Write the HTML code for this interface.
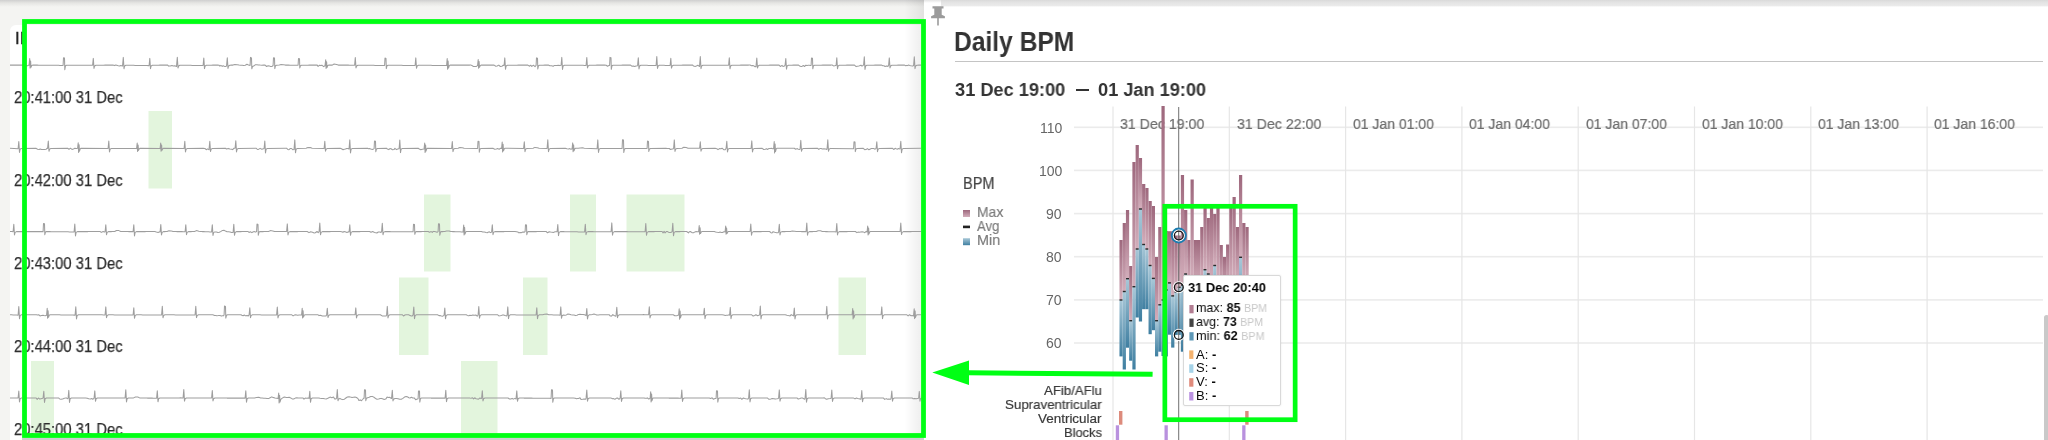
<!DOCTYPE html>
<html><head><meta charset='utf-8'><title>Daily BPM</title>
<style>
html,body{margin:0;padding:0;background:#fff;}
#root{position:relative;width:2048px;height:440px;overflow:hidden;background:#f4f4f2;font-family:"Liberation Sans",sans-serif;}
.t{position:absolute;white-space:pre;line-height:1;transform-origin:0 50%;will-change:transform;}
.abs{position:absolute;}
svg{position:absolute;left:0;top:0;overflow:visible;}
</style></head><body>
<div id='root'>
<div class='abs' style='left:0;top:0;width:2048px;height:7px;background:linear-gradient(#cfcfcf,#e6e6e4 45%,#f4f4f2);'></div>
<div class='abs' style='left:10px;top:25px;width:914px;height:420px;background:#fff;border-top-left-radius:6px;'></div>
<div class='abs' style='left:904px;top:0;width:20px;height:440px;background:linear-gradient(90deg,rgba(0,0,0,0),rgba(0,0,0,0.075));'></div>
<div class='abs' style='left:22px;top:437.8px;width:902px;height:3px;background:#cfcfcf;'></div>
<svg width='2048' height='440' viewBox='0 0 2048 440'>
<rect x='148.5' y='111' width='23.5' height='77.5' fill='#e3f5dd'/>
<rect x='424' y='194.5' width='26.5' height='77.0' fill='#e3f5dd'/>
<rect x='570' y='194.5' width='26' height='77.0' fill='#e3f5dd'/>
<rect x='626.5' y='194.5' width='58.0' height='77.0' fill='#e3f5dd'/>
<rect x='399' y='277.5' width='29.5' height='77.5' fill='#e3f5dd'/>
<rect x='523' y='277.5' width='24.5' height='77.5' fill='#e3f5dd'/>
<rect x='838.5' y='277.5' width='27.5' height='77.5' fill='#e3f5dd'/>
<rect x='31' y='361' width='23' height='76.80000000000001' fill='#e3f5dd'/>
<rect x='461' y='361' width='36.5' height='76.80000000000001' fill='#e3f5dd'/>
<path d='M10.0,65.1 L11.6,65.1 L13.2,65.1 L14.8,65.1 L16.4,65.1 L18.1,65.1 L19.7,65.1 L21.3,65.1 L22.9,65.1 L24.4,65.1 L25.8,65.6 L26.7,65.8 L27.6,65.7 L28.6,65.1 L29.1,65.3 L29.7,58.5 L30.1,68.1 L30.6,61.0 L31.0,67.2 L31.8,65.5 L32.6,65.1 L34.1,65.1 L35.6,65.1 L37.2,65.1 L38.7,65.2 L40.2,65.2 L41.8,65.2 L43.3,65.2 L44.8,65.2 L46.3,65.2 L47.9,65.2 L49.4,65.3 L50.9,65.3 L52.4,65.3 L54.0,65.3 L55.5,65.3 L57.0,65.3 L58.5,65.3 L60.0,65.4 L61.6,65.4 L63.1,65.4 L63.5,57.8 L64.5,58.1 L64.8,69.7 L65.5,65.7 L66.6,65.2 L68.1,65.2 L69.7,65.2 L71.2,65.2 L72.7,65.2 L74.2,65.2 L75.8,65.2 L77.3,65.2 L78.8,65.2 L80.4,65.2 L81.9,65.2 L83.4,65.2 L85.0,65.2 L86.5,65.2 L88.0,65.2 L89.5,65.2 L91.1,65.2 L92.6,65.2 L93.3,58.4 L94.0,68.5 L94.6,66.0 L95.9,65.2 L97.4,65.2 L99.0,65.2 L100.5,65.2 L102.1,65.2 L103.6,65.2 L105.2,65.1 L106.7,65.1 L108.3,65.1 L109.8,65.1 L111.4,65.1 L112.9,65.1 L114.4,65.6 L115.8,65.1 L116.8,65.3 L118.3,65.7 L119.5,65.9 L120.8,65.5 L122.4,66.1 L122.6,65.2 L123.3,57.4 L124.0,68.8 L124.6,66.0 L125.9,65.2 L127.4,65.2 L129.0,65.3 L130.5,65.3 L132.1,65.3 L133.6,65.3 L135.2,65.4 L136.7,65.4 L138.3,65.4 L139.8,65.4 L141.4,65.5 L142.9,65.5 L144.5,65.5 L146.0,65.5 L147.6,65.6 L149.1,65.6 L149.8,58.4 L150.5,68.7 L151.1,66.0 L152.4,65.2 L153.9,65.2 L155.5,65.2 L157.0,65.2 L158.5,65.2 L160.0,65.1 L161.6,65.1 L163.1,65.1 L164.6,65.1 L166.2,65.1 L167.7,65.1 L168.6,66.1 L170.2,65.9 L171.9,65.5 L173.4,66.0 L174.8,65.7 L176.5,66.5 L176.6,65.3 L177.3,57.2 L178.0,68.0 L178.6,66.0 L179.9,65.2 L181.4,65.2 L183.0,65.2 L184.5,65.3 L186.1,65.3 L187.6,65.3 L189.2,65.3 L190.7,65.3 L192.3,65.4 L193.8,65.4 L195.4,65.4 L196.9,65.4 L198.5,65.4 L200.0,65.5 L201.6,65.5 L203.1,65.5 L203.8,58.0 L204.5,68.6 L205.1,66.0 L206.4,65.2 L208.0,65.2 L209.7,65.2 L211.3,65.2 L213.0,65.1 L214.6,65.1 L216.3,65.1 L217.9,65.1 L219.0,65.2 L219.9,66.2 L220.9,65.4 L222.2,66.4 L223.2,65.7 L224.5,66.4 L226.2,66.4 L226.6,65.2 L227.3,57.7 L228.0,68.5 L228.6,66.0 L229.9,65.2 L231.4,65.1 L233.0,65.1 L234.8,64.5 L237.2,64.7 L239.0,65.1 L240.6,65.2 L242.2,65.3 L243.7,65.5 L245.3,65.3 L246.9,64.3 L248.5,65.0 L250.1,65.4 L250.5,57.4 L251.5,57.9 L251.8,68.8 L252.5,66.5 L253.6,66.1 L255.2,64.8 L256.9,64.7 L258.5,64.9 L260.2,65.1 L261.8,65.2 L263.5,65.1 L265.1,65.1 L266.6,66.5 L268.1,65.8 L269.5,66.1 L270.5,66.4 L272.1,66.4 L273.1,65.5 L273.5,57.8 L274.5,58.1 L274.8,68.6 L275.5,65.7 L276.6,65.2 L279.3,65.1 L281.1,64.6 L283.5,64.8 L285.3,65.1 L286.9,65.1 L288.5,65.1 L290.1,65.2 L291.7,65.2 L293.3,65.2 L294.9,65.2 L296.5,65.2 L298.1,65.3 L298.5,58.5 L299.5,58.8 L299.8,67.9 L300.5,65.7 L301.6,65.2 L303.2,65.2 L304.7,65.2 L306.3,65.2 L307.8,65.2 L309.4,65.1 L311.0,65.1 L312.5,65.1 L314.1,65.1 L315.6,65.1 L317.2,65.1 L318.1,66.4 L319.6,65.2 L320.7,65.6 L321.9,65.2 L323.6,66.6 L324.9,65.8 L325.1,65.1 L325.7,59.7 L326.1,68.5 L326.6,61.7 L327.0,67.5 L327.8,65.5 L328.6,65.1 L330.4,65.1 L332.3,65.1 L334.1,64.0 L336.5,64.5 L338.3,65.1 L339.9,65.1 L341.5,65.1 L343.2,65.1 L344.8,65.1 L346.4,65.1 L348.1,65.1 L349.7,65.2 L351.3,65.2 L353.0,65.2 L354.6,65.2 L355.3,57.5 L356.0,67.9 L356.6,66.0 L357.9,65.2 L359.5,65.2 L361.0,65.2 L362.6,65.2 L364.2,65.3 L365.8,65.3 L367.3,65.3 L368.9,65.3 L370.5,65.3 L372.0,65.3 L373.6,65.3 L375.2,65.4 L376.7,65.4 L378.3,65.4 L379.9,65.4 L381.5,65.4 L383.0,65.4 L384.6,65.4 L385.0,58.1 L386.0,58.4 L386.3,68.6 L387.0,65.7 L388.1,65.2 L389.6,65.2 L391.1,65.2 L392.6,65.2 L394.1,65.3 L395.6,65.3 L397.1,65.3 L398.6,65.3 L400.1,65.3 L401.6,65.3 L403.1,65.4 L404.6,65.4 L406.1,65.4 L407.6,65.4 L409.1,65.4 L410.6,65.4 L412.1,65.5 L413.6,65.5 L415.1,65.5 L415.8,57.9 L416.5,68.3 L417.1,66.0 L418.4,65.2 L420.0,65.2 L421.5,65.2 L423.1,65.3 L424.7,65.3 L426.2,65.3 L427.8,65.3 L429.4,65.3 L430.9,65.3 L432.5,65.4 L434.1,65.4 L435.6,65.4 L437.2,65.4 L438.8,65.4 L440.3,65.4 L441.9,65.5 L443.5,65.5 L445.0,65.5 L446.6,65.5 L447.2,58.5 L447.6,69.2 L448.1,61.0 L448.5,68.0 L449.3,65.5 L450.1,65.1 L451.6,65.1 L453.1,65.1 L454.6,65.1 L456.1,65.1 L457.7,65.1 L459.2,65.1 L460.7,65.1 L462.2,65.1 L463.7,65.1 L465.2,65.1 L466.7,65.1 L468.2,65.1 L469.8,65.1 L470.7,65.0 L471.8,65.4 L473.4,66.5 L474.7,66.5 L476.4,66.5 L477.6,65.3 L478.2,59.5 L478.6,68.3 L479.1,61.6 L479.5,67.3 L480.3,65.5 L481.1,65.1 L482.7,65.1 L484.4,65.1 L486.0,65.1 L487.6,65.1 L489.2,65.1 L490.9,65.1 L492.5,65.1 L494.1,65.1 L495.8,66.3 L497.1,66.0 L498.8,65.1 L500.3,66.5 L501.9,66.2 L503.2,65.3 L504.1,65.5 L504.8,57.9 L505.5,69.3 L506.1,66.0 L507.4,65.2 L509.0,65.2 L510.6,65.2 L512.1,65.2 L513.7,65.2 L515.3,65.2 L516.9,65.2 L518.4,65.1 L520.0,65.1 L521.6,65.1 L523.2,65.1 L524.7,65.1 L526.3,65.1 L527.9,65.1 L529.6,66.2 L530.7,65.2 L531.7,66.4 L533.4,65.2 L535.0,66.6 L536.1,65.4 L536.5,57.9 L537.5,58.2 L537.8,68.9 L538.5,65.7 L539.6,65.2 L541.3,65.2 L543.1,65.2 L544.8,65.1 L546.6,65.1 L548.3,65.1 L549.8,65.8 L551.6,65.7 L553.2,66.3 L554.3,65.4 L555.5,65.4 L556.9,65.4 L558.2,65.2 L559.9,65.6 L561.1,65.3 L561.8,57.4 L562.5,69.5 L563.1,66.0 L564.4,65.2 L565.9,65.2 L567.5,65.2 L569.0,65.2 L570.6,65.2 L572.1,65.3 L573.7,65.3 L575.2,65.3 L576.8,65.3 L578.4,65.3 L579.9,65.3 L581.5,65.3 L583.0,65.3 L584.6,65.4 L586.1,65.4 L586.8,57.5 L587.5,67.9 L588.1,66.0 L589.4,65.2 L590.9,65.2 L592.4,65.2 L594.0,65.2 L595.5,65.2 L597.0,65.1 L598.5,65.1 L600.0,65.1 L601.5,65.1 L603.1,65.1 L604.6,65.1 L606.2,65.3 L607.5,66.2 L608.9,65.5 L609.6,65.4 L610.0,57.4 L611.0,57.7 L611.3,69.3 L612.0,65.7 L613.1,65.2 L614.7,65.2 L616.3,65.2 L617.9,65.2 L619.5,65.2 L621.1,65.2 L622.7,65.1 L624.2,65.1 L625.8,65.1 L627.4,65.1 L629.0,65.1 L630.6,65.1 L631.8,66.2 L633.1,65.9 L634.7,66.5 L636.0,66.0 L637.4,65.8 L637.6,65.4 L638.3,57.7 L639.0,68.9 L639.6,66.0 L640.9,65.2 L642.4,65.2 L643.9,65.3 L645.5,65.3 L647.0,65.3 L648.5,65.4 L650.0,65.4 L651.5,65.4 L653.1,65.5 L654.6,65.5 L656.1,65.5 L656.8,56.6 L657.5,68.4 L658.1,66.0 L659.4,65.2 L660.9,65.2 L662.5,65.3 L664.0,65.3 L665.5,65.4 L667.0,65.4 L668.6,65.5 L670.1,65.5 L670.8,58.3 L671.5,68.1 L672.1,66.0 L673.4,65.2 L675.0,65.2 L676.6,65.2 L678.2,65.2 L679.8,65.2 L681.4,65.2 L683.0,65.1 L684.6,65.1 L686.2,65.1 L687.9,65.1 L689.5,65.1 L691.1,65.1 L692.7,65.1 L693.6,66.1 L695.2,66.4 L696.3,66.1 L697.8,65.2 L699.5,66.5 L699.6,65.2 L700.3,56.6 L701.0,68.6 L701.6,66.0 L702.9,65.2 L704.4,65.2 L705.9,65.2 L707.4,65.2 L708.9,65.2 L710.5,65.2 L712.0,65.2 L713.5,65.2 L715.0,65.2 L716.5,65.2 L718.0,65.2 L719.5,65.2 L721.0,65.2 L722.6,65.2 L724.1,65.2 L725.6,65.2 L727.1,65.2 L728.6,65.2 L729.3,57.7 L730.0,68.8 L730.6,66.0 L731.9,65.2 L733.4,65.2 L734.9,65.2 L736.4,65.2 L738.0,65.2 L739.5,65.2 L741.0,65.1 L742.5,65.1 L744.0,65.1 L745.5,65.1 L747.0,65.1 L748.6,65.1 L750.1,65.0 L751.5,65.7 L752.4,65.5 L753.9,65.8 L754.8,66.6 L756.1,66.6 L756.1,65.2 L756.8,58.0 L757.5,68.0 L758.1,66.0 L759.4,65.2 L760.9,65.2 L762.4,65.2 L763.9,65.2 L765.5,65.2 L767.0,65.2 L768.5,65.2 L770.0,65.1 L771.5,65.1 L773.0,65.1 L774.5,65.1 L776.0,65.1 L777.6,65.1 L779.1,65.1 L780.3,66.5 L782.0,65.4 L783.0,66.5 L784.4,66.1 L785.1,65.1 L785.8,58.5 L786.5,69.1 L787.1,66.0 L788.4,65.2 L790.1,65.2 L791.8,65.2 L793.5,65.1 L795.2,65.1 L796.9,65.1 L798.6,65.1 L800.1,66.3 L801.0,66.4 L802.0,66.4 L803.3,65.5 L804.7,66.5 L805.8,65.2 L807.2,65.4 L808.2,65.3 L809.2,65.3 L810.3,65.5 L811.1,65.5 L811.5,58.0 L812.5,58.3 L812.8,68.8 L813.5,65.7 L814.6,65.2 L816.2,65.2 L817.9,65.2 L819.5,65.2 L821.1,65.2 L822.8,65.1 L824.4,65.1 L826.0,65.1 L827.7,65.1 L829.3,65.1 L831.0,65.1 L832.1,65.0 L833.6,65.9 L834.7,65.8 L836.1,65.2 L836.1,65.5 L836.8,57.7 L837.5,68.8 L838.1,66.0 L839.4,65.2 L840.9,65.2 L842.4,65.2 L843.9,65.2 L845.5,65.2 L847.0,65.1 L848.5,65.1 L850.0,65.1 L851.5,65.1 L853.0,65.1 L854.5,65.1 L856.1,66.6 L857.3,66.3 L858.8,66.0 L860.1,65.6 L861.0,65.2 L862.0,66.2 L863.1,65.3 L863.6,65.1 L864.3,56.8 L865.0,69.5 L865.6,66.0 L866.9,65.2 L868.5,65.2 L870.2,65.2 L871.8,65.2 L873.5,65.2 L875.1,65.1 L876.7,65.1 L878.4,65.1 L880.0,65.1 L881.7,65.1 L882.8,65.7 L883.9,65.7 L885.0,66.5 L886.8,65.9 L887.9,66.5 L888.6,65.3 L889.3,57.9 L890.0,67.9 L890.6,66.0 L891.9,65.2 L893.5,65.2 L895.1,65.2 L896.7,65.2 L898.2,65.1 L899.8,65.1 L901.4,65.1 L903.0,65.1 L904.6,65.1 L905.7,65.8 L906.6,65.4 L907.5,65.6 L908.5,65.0 L909.7,65.4 L911.1,65.8 L912.7,66.1 L913.6,65.5 L914.3,56.8 L915.0,68.6 L915.6,66.0 L916.9,65.2 L919.0,65.1 L921.0,65.1' fill='none' stroke='#9e9e9e' stroke-width='1.05' stroke-linejoin='round'/>
<path d='M10.0,148.3 L18.1,148.8 L18.8,141.5 L19.5,152.4 L20.1,149.2 L21.4,148.4 L35.9,148.3 L37.6,149.2 L39.2,149.5 L40.2,149.0 L41.6,149.5 L43.2,149.5 L44.6,149.6 L46.1,149.3 L47.2,148.2 L47.6,148.4 L48.3,141.0 L49.0,151.3 L49.6,149.2 L50.9,148.4 L67.6,148.3 L69.0,149.3 L70.4,148.2 L72.0,149.4 L73.4,149.1 L74.8,148.3 L76.4,148.6 L77.6,148.3 L78.2,142.7 L78.6,152.4 L79.1,144.8 L79.5,151.2 L80.3,148.7 L81.1,148.3 L108.1,148.5 L108.8,141.0 L109.5,152.0 L110.1,149.2 L111.4,148.4 L136.6,148.6 L137.2,143.0 L137.6,151.4 L138.1,145.0 L138.5,150.4 L139.3,148.7 L140.1,148.3 L160.1,148.6 L160.7,143.1 L161.1,151.2 L161.6,145.0 L162.0,150.3 L162.8,148.7 L163.6,148.3 L184.1,148.6 L184.8,141.2 L185.5,152.0 L186.1,149.2 L187.4,148.4 L203.2,148.3 L204.9,148.5 L206.6,149.7 L207.6,148.9 L209.1,149.7 L209.1,148.5 L209.8,141.2 L210.5,151.5 L211.1,149.2 L212.4,148.4 L225.4,148.3 L226.5,149.0 L228.2,148.4 L229.9,149.0 L231.6,149.3 L232.7,149.6 L234.0,148.2 L235.1,148.3 L235.8,140.8 L236.5,151.9 L237.1,149.2 L238.4,148.4 L256.3,148.3 L257.5,149.5 L258.4,149.4 L260.1,148.4 L261.8,149.3 L263.5,148.7 L264.1,148.5 L264.8,141.0 L265.5,152.9 L266.1,149.2 L267.4,148.4 L285.7,148.3 L286.8,148.3 L287.8,149.5 L289.0,149.7 L290.1,148.6 L291.5,148.5 L292.7,149.7 L294.1,149.5 L294.1,148.6 L294.8,139.9 L295.5,152.8 L296.1,149.2 L297.4,148.4 L306.1,148.3 L307.9,147.6 L310.3,147.6 L312.1,148.3 L324.1,148.6 L324.8,141.2 L325.5,151.2 L326.1,149.2 L327.4,148.4 L340.3,148.3 L341.5,148.7 L343.1,149.8 L344.2,149.2 L345.4,149.1 L346.7,148.5 L347.7,148.5 L349.1,149.0 L349.1,148.4 L349.8,139.9 L350.5,152.9 L351.1,149.2 L352.4,148.4 L367.6,148.3 L368.5,148.7 L369.5,148.6 L370.7,149.1 L372.4,149.4 L373.6,148.9 L374.1,148.6 L374.5,141.0 L375.5,141.3 L375.8,151.7 L376.5,148.9 L377.6,148.4 L386.4,148.3 L387.4,149.0 L388.8,149.6 L389.9,148.6 L391.1,148.8 L392.4,149.7 L394.0,149.6 L394.9,148.3 L396.5,149.6 L397.8,149.1 L398.7,148.8 L399.1,148.8 L399.8,140.1 L400.5,152.6 L401.1,149.2 L402.4,148.4 L418.2,148.3 L419.3,149.0 L420.8,149.7 L422.3,149.2 L423.9,148.9 L424.1,148.6 L424.7,143.0 L425.1,152.5 L425.6,145.0 L426.0,151.2 L426.8,148.7 L427.6,148.3 L451.6,148.5 L452.3,141.5 L453.0,151.6 L453.6,149.2 L454.9,148.4 L458.1,148.3 L459.9,147.5 L462.3,147.7 L464.1,148.3 L477.6,148.5 L478.0,141.3 L479.0,141.6 L479.3,152.2 L480.0,148.9 L481.1,148.4 L492.9,148.3 L494.7,149.2 L496.4,149.0 L497.5,148.6 L499.2,149.3 L500.4,148.2 L501.6,148.5 L502.2,142.0 L502.6,151.9 L503.1,144.3 L503.5,150.8 L504.3,148.7 L505.1,148.3 L523.6,148.4 L524.3,141.7 L525.0,151.7 L525.6,149.2 L526.9,148.4 L533.1,148.3 L534.9,147.4 L537.3,147.7 L539.1,148.3 L547.1,148.4 L547.8,139.8 L548.5,151.7 L549.1,149.2 L550.4,148.4 L565.3,148.3 L566.9,148.7 L568.7,149.0 L569.7,148.6 L571.0,149.3 L572.1,148.8 L572.7,142.9 L573.1,151.8 L573.6,144.9 L574.0,150.8 L574.8,148.7 L575.6,148.3 L578.3,148.3 L580.1,147.9 L582.5,147.8 L584.3,148.3 L597.1,148.7 L597.8,139.9 L598.5,152.4 L599.1,149.2 L600.4,148.4 L622.1,148.4 L622.5,139.8 L623.5,140.1 L623.8,152.4 L624.5,148.9 L625.6,148.4 L647.1,148.5 L647.5,141.1 L648.5,141.4 L648.8,151.4 L649.5,148.9 L650.6,148.4 L665.8,148.3 L667.5,148.4 L669.3,148.5 L670.5,149.5 L672.2,148.9 L673.1,149.0 L673.6,148.5 L674.3,139.9 L675.0,151.4 L675.6,149.2 L676.9,148.4 L682.0,148.3 L683.8,147.3 L686.2,147.6 L688.0,148.3 L699.6,148.3 L700.3,141.7 L701.0,151.2 L701.6,149.2 L702.9,148.4 L715.1,148.3 L716.8,148.7 L718.0,149.7 L719.4,148.6 L721.0,148.7 L722.1,148.2 L723.7,149.7 L725.2,149.7 L726.1,148.3 L726.8,141.3 L727.5,152.0 L728.1,149.2 L729.4,148.4 L751.1,148.4 L751.8,140.9 L752.5,152.0 L753.1,149.2 L754.4,148.4 L762.2,148.3 L763.7,149.5 L765.3,149.2 L766.5,148.7 L767.8,149.5 L768.7,148.5 L770.3,148.6 L771.3,148.3 L772.7,148.7 L773.6,148.8 L774.2,141.6 L774.6,152.9 L775.1,144.1 L775.5,151.5 L776.3,148.7 L777.1,148.3 L794.3,148.3 L795.7,149.3 L797.0,148.6 L798.3,149.2 L799.8,149.4 L800.1,148.7 L800.8,140.4 L801.5,151.3 L802.1,149.2 L803.4,148.4 L817.6,148.3 L818.8,149.4 L819.9,148.6 L821.0,148.4 L822.7,149.1 L823.9,148.8 L825.7,149.0 L826.8,149.5 L827.1,148.6 L827.8,139.7 L828.5,151.3 L829.1,149.2 L830.4,148.4 L853.6,148.8 L854.0,141.7 L855.0,142.0 L855.3,151.6 L856.0,148.9 L857.1,148.4 L863.3,148.3 L864.7,149.7 L866.0,149.6 L867.3,148.6 L868.9,149.7 L869.9,149.2 L871.3,148.5 L872.6,148.4 L873.6,148.6 L875.1,149.2 L876.1,148.4 L876.8,141.8 L877.5,151.7 L878.1,149.2 L879.4,148.4 L892.6,148.3 L893.7,149.5 L895.1,148.3 L896.1,148.8 L897.5,149.2 L898.4,148.5 L900.0,148.9 L900.1,148.4 L900.8,141.2 L901.5,152.8 L902.1,149.2 L903.4,148.4 L921.0,148.3' fill='none' stroke='#9e9e9e' stroke-width='1.05' stroke-linejoin='round'/>
<path d='M10.0,231.5 L11.6,231.6 L13.1,231.8 L13.8,224.2 L14.5,235.0 L15.1,232.4 L16.4,231.6 L18.0,231.6 L19.5,231.6 L21.1,231.6 L22.7,231.6 L24.3,231.6 L25.8,231.6 L27.4,231.6 L29.0,231.6 L30.5,231.6 L32.1,231.6 L33.7,231.6 L35.2,231.6 L36.8,231.6 L38.4,231.6 L40.0,231.6 L41.5,231.6 L43.1,231.6 L43.5,223.5 L44.5,223.8 L44.8,234.7 L45.5,232.1 L46.6,231.6 L48.1,231.6 L49.7,231.6 L51.2,231.7 L52.7,231.7 L54.2,231.7 L55.8,231.7 L57.3,231.7 L58.8,231.7 L60.3,231.8 L61.9,231.8 L63.4,231.8 L64.9,231.8 L66.5,231.8 L68.0,231.8 L69.5,231.9 L71.0,231.9 L72.6,231.9 L74.1,231.9 L74.8,224.1 L75.5,235.9 L76.1,232.4 L77.4,231.6 L78.9,231.6 L80.4,231.6 L81.9,231.6 L83.4,231.6 L84.9,231.6 L86.4,231.6 L87.9,231.6 L89.4,231.5 L90.9,231.5 L92.5,231.5 L94.0,231.5 L95.5,231.5 L97.0,231.5 L98.5,231.5 L100.0,231.5 L101.4,232.4 L103.1,231.5 L104.6,232.0 L105.1,231.8 L105.8,224.7 L106.5,234.8 L107.1,232.4 L108.4,231.6 L110.0,231.6 L111.6,231.6 L113.1,231.5 L114.7,231.5 L116.5,230.5 L118.9,230.6 L120.7,231.5 L122.3,231.5 L123.8,231.5 L125.4,231.5 L126.9,231.5 L128.5,231.6 L130.0,231.6 L131.6,231.6 L133.1,231.6 L133.8,224.7 L134.5,236.0 L135.1,232.4 L136.4,231.6 L137.9,231.6 L139.4,231.6 L141.0,231.6 L142.5,231.6 L144.0,231.6 L145.5,231.6 L147.1,231.5 L148.6,231.5 L150.1,231.5 L151.6,231.5 L153.2,231.5 L154.7,231.5 L156.4,232.0 L158.1,232.4 L159.8,231.7 L160.1,231.9 L160.8,224.5 L161.5,235.0 L162.1,232.4 L163.4,231.6 L165.3,231.6 L167.1,231.5 L168.9,230.8 L171.3,230.9 L173.1,231.5 L174.9,231.5 L176.6,231.6 L178.3,231.6 L180.0,231.6 L181.7,231.6 L183.4,231.7 L185.1,231.7 L185.8,224.7 L186.5,234.7 L187.1,232.4 L188.4,231.6 L189.9,231.6 L191.5,231.6 L193.0,231.5 L194.6,231.5 L196.4,230.6 L198.8,231.3 L200.6,231.5 L202.2,231.6 L203.7,231.6 L205.3,231.7 L206.9,231.7 L208.5,231.8 L210.0,231.9 L211.6,231.9 L212.3,224.8 L213.0,235.5 L213.6,232.6 L214.9,231.9 L216.4,232.0 L217.9,232.4 L219.4,232.3 L221.0,231.4 L222.5,230.4 L224.0,230.3 L225.5,231.1 L227.0,231.8 L228.6,231.8 L230.1,231.9 L231.6,232.4 L233.1,232.4 L233.8,224.2 L234.5,235.3 L235.1,232.5 L236.4,231.6 L238.1,231.6 L239.7,231.6 L241.4,231.6 L243.1,231.5 L244.8,231.5 L246.4,231.5 L248.1,231.5 L249.0,232.4 L250.4,231.8 L251.9,232.6 L253.3,231.7 L254.6,231.6 L255.6,232.1 L256.6,231.5 L257.0,224.1 L258.0,224.4 L258.3,235.2 L259.0,232.1 L260.1,231.6 L261.8,231.6 L263.5,231.6 L265.2,231.5 L266.9,231.5 L268.6,231.5 L270.4,230.6 L272.8,230.9 L274.6,231.5 L276.1,231.5 L277.6,231.5 L279.1,231.5 L280.6,231.5 L282.1,231.5 L283.6,231.5 L285.1,231.5 L286.6,231.5 L287.3,223.9 L288.0,235.0 L288.6,232.4 L289.9,231.6 L291.5,231.6 L293.1,231.6 L294.6,231.6 L296.2,231.6 L297.8,231.6 L299.4,231.5 L300.9,231.5 L302.5,231.5 L304.1,231.5 L305.7,231.5 L307.2,231.5 L309.0,232.6 L310.7,231.7 L312.5,232.2 L314.2,232.9 L315.3,232.7 L317.0,231.5 L318.2,232.6 L319.1,231.6 L319.8,223.1 L320.5,234.8 L321.1,232.4 L322.4,231.6 L324.0,231.6 L325.6,231.6 L327.2,231.6 L328.8,231.6 L330.4,231.6 L332.0,231.5 L333.7,231.5 L335.3,231.5 L336.9,231.5 L338.5,231.5 L340.1,231.5 L341.8,231.7 L342.9,232.2 L344.1,231.5 L345.2,231.7 L346.9,232.5 L348.6,231.7 L349.1,231.9 L349.8,224.8 L350.5,235.3 L351.1,232.4 L352.4,231.6 L354.0,231.6 L355.5,231.6 L357.1,231.6 L358.7,231.6 L360.2,231.6 L361.8,231.5 L363.4,231.5 L364.9,231.5 L366.5,231.5 L368.1,231.5 L369.6,231.5 L371.0,232.3 L372.7,231.6 L374.5,232.4 L375.8,232.7 L376.9,233.0 L378.3,232.0 L379.9,232.1 L381.0,232.6 L381.6,231.5 L382.3,223.3 L383.0,234.8 L383.6,232.4 L384.9,231.6 L386.5,231.6 L388.0,231.6 L389.6,231.6 L391.2,231.7 L392.7,231.7 L394.3,231.7 L395.9,231.7 L397.4,231.7 L399.0,231.7 L400.6,231.7 L402.1,231.7 L403.7,231.8 L405.3,231.8 L406.8,231.8 L408.4,231.8 L410.0,231.8 L411.5,231.8 L413.1,231.8 L413.5,224.3 L414.5,224.6 L414.8,234.3 L415.5,232.1 L416.6,231.6 L418.3,231.6 L419.9,231.6 L421.6,231.6 L423.2,231.5 L424.9,231.5 L426.5,231.5 L428.2,231.5 L429.5,232.2 L431.2,231.6 L432.3,232.4 L433.2,231.4 L434.4,231.6 L435.6,231.8 L437.1,232.3 L438.1,231.6 L438.5,223.7 L439.5,224.0 L439.8,235.2 L440.5,232.1 L441.6,231.6 L443.2,231.6 L444.8,231.5 L446.6,231.0 L449.0,230.9 L450.8,231.5 L452.3,231.6 L453.9,231.6 L455.4,231.7 L456.9,231.7 L458.5,231.8 L460.0,231.8 L461.6,231.9 L463.1,231.9 L463.7,225.0 L464.1,235.0 L464.6,227.4 L465.0,234.0 L465.8,231.9 L466.6,231.5 L468.2,231.5 L469.9,231.5 L471.5,231.5 L473.2,231.5 L474.8,231.5 L476.5,231.5 L478.1,231.5 L479.8,231.5 L481.4,231.5 L482.8,232.0 L484.3,232.1 L486.1,232.6 L487.2,232.8 L488.1,232.3 L489.4,231.8 L490.4,232.6 L491.3,232.3 L491.6,232.0 L492.3,224.7 L493.0,234.7 L493.6,232.4 L494.9,231.6 L496.4,231.6 L498.0,231.6 L499.5,231.6 L501.1,231.6 L502.6,231.6 L504.2,231.6 L505.7,231.5 L507.2,231.5 L508.8,231.5 L510.3,231.5 L511.9,231.5 L513.4,231.5 L515.0,231.5 L516.6,231.7 L517.8,231.9 L518.7,232.8 L520.3,232.5 L521.2,232.8 L522.8,232.1 L524.4,232.1 L525.1,231.6 L525.5,224.8 L526.5,225.1 L526.8,234.7 L527.5,232.1 L528.6,231.6 L530.2,231.6 L531.8,231.6 L533.4,231.6 L535.0,231.6 L536.6,231.6 L538.1,231.5 L539.7,231.5 L541.3,231.5 L542.9,231.5 L544.5,231.5 L546.1,231.5 L547.6,232.8 L549.2,231.8 L550.6,232.1 L552.2,232.2 L553.3,232.4 L555.1,231.7 L556.8,231.4 L557.1,231.6 L557.8,224.5 L558.5,235.6 L559.1,232.4 L560.4,231.6 L561.9,231.6 L563.4,231.6 L564.9,231.7 L566.5,231.7 L568.0,231.7 L569.5,231.7 L571.0,231.7 L572.5,231.8 L574.0,231.8 L575.5,231.8 L577.0,231.8 L578.5,231.9 L580.1,231.9 L581.6,231.9 L583.1,231.9 L584.6,231.9 L585.3,224.3 L586.0,234.7 L586.6,232.4 L587.9,231.6 L589.4,231.6 L591.0,231.6 L592.5,231.6 L594.1,231.7 L595.6,231.7 L597.2,231.7 L598.7,231.7 L600.3,231.7 L601.8,231.7 L603.4,231.8 L604.9,231.8 L606.5,231.8 L608.0,231.8 L609.6,231.8 L611.1,231.8 L611.8,222.9 L612.5,235.1 L613.1,232.4 L614.4,231.6 L615.9,231.6 L617.5,231.6 L619.0,231.6 L620.5,231.6 L622.1,231.6 L623.6,231.6 L625.1,231.6 L626.7,231.6 L628.2,231.7 L629.8,231.7 L631.3,231.7 L632.8,231.7 L634.4,231.7 L635.9,231.7 L637.4,231.7 L639.0,231.7 L640.5,231.7 L642.0,231.7 L643.6,231.7 L645.1,231.7 L645.8,223.5 L646.5,235.3 L647.1,232.4 L648.4,231.6 L649.9,231.6 L651.4,231.6 L653.0,231.6 L654.5,231.6 L656.0,231.5 L657.5,231.5 L659.1,231.5 L660.6,231.5 L662.1,231.5 L663.1,232.9 L664.1,231.4 L665.1,232.9 L666.3,231.6 L667.3,231.5 L668.8,232.4 L670.3,232.6 L671.3,232.3 L672.1,231.7 L672.8,223.3 L673.5,235.8 L674.1,232.4 L675.4,231.6 L677.0,231.6 L678.6,231.6 L680.2,231.6 L681.8,231.5 L683.4,231.5 L685.0,231.5 L686.7,231.5 L688.4,232.9 L689.4,231.7 L690.4,231.5 L692.0,232.7 L693.5,232.7 L695.0,231.9 L696.0,231.6 L697.6,231.7 L698.6,231.7 L699.2,225.6 L699.6,234.3 L700.1,227.8 L700.5,233.5 L701.3,231.9 L702.1,231.5 L703.6,231.5 L705.2,231.5 L706.7,231.5 L708.2,231.5 L709.8,231.5 L711.3,231.5 L712.8,231.5 L714.4,231.5 L715.6,231.9 L717.4,232.2 L719.0,232.4 L720.0,232.1 L721.3,232.6 L722.5,232.5 L723.9,231.7 L725.1,231.5 L725.1,231.9 L725.7,226.0 L726.1,234.3 L726.6,228.1 L727.0,233.5 L727.8,231.9 L728.6,231.5 L730.1,231.5 L731.7,231.5 L733.2,231.5 L734.7,231.5 L736.3,231.5 L737.8,231.5 L739.4,231.5 L740.9,231.5 L742.4,231.5 L744.0,231.5 L745.5,231.5 L747.0,231.5 L748.6,231.5 L750.1,231.5 L750.8,224.0 L751.5,235.2 L752.1,232.4 L753.4,231.6 L755.0,231.6 L756.6,231.6 L758.3,231.6 L759.9,231.6 L761.5,231.6 L763.1,231.5 L764.8,231.5 L766.4,231.5 L768.0,231.5 L769.6,231.5 L770.9,232.7 L772.0,232.9 L773.1,231.7 L774.7,232.2 L775.7,232.4 L776.6,232.7 L778.2,232.7 L778.6,231.8 L779.3,224.3 L780.0,235.0 L780.6,232.4 L781.9,231.6 L783.6,231.6 L785.3,231.6 L787.0,231.5 L788.7,231.5 L790.4,231.5 L792.2,231.1 L794.6,231.2 L796.4,231.5 L798.0,231.5 L799.7,231.5 L801.3,231.6 L802.9,231.6 L804.5,231.6 L806.1,231.6 L806.8,223.1 L807.5,235.2 L808.1,232.4 L809.4,231.6 L811.1,231.6 L812.8,231.6 L814.6,231.5 L816.3,231.5 L818.1,230.7 L820.5,230.8 L822.3,231.5 L823.8,231.5 L825.3,231.6 L826.9,231.6 L828.4,231.7 L830.0,231.7 L831.5,231.8 L833.0,231.8 L834.6,231.8 L836.1,231.9 L836.8,223.6 L837.5,234.9 L838.1,232.4 L839.4,231.6 L841.0,231.6 L842.6,231.6 L844.2,231.6 L845.8,231.6 L847.4,231.6 L849.0,231.5 L850.6,231.5 L852.2,231.5 L853.8,231.5 L855.4,231.5 L856.9,232.6 L857.9,232.1 L859.5,232.3 L860.5,232.1 L862.2,231.8 L863.3,231.9 L864.8,232.7 L865.9,231.6 L867.0,231.9 L867.1,231.8 L867.7,226.0 L868.1,234.9 L868.6,228.1 L869.0,233.9 L869.8,231.9 L870.6,231.5 L872.2,231.5 L873.7,231.5 L875.3,231.5 L876.8,231.5 L878.4,231.5 L879.9,231.5 L881.5,231.5 L883.0,231.5 L884.6,231.5 L886.1,231.5 L887.7,231.5 L889.2,231.5 L890.8,231.5 L892.3,231.5 L893.9,231.5 L895.4,231.5 L897.0,231.5 L898.5,231.5 L900.1,231.6 L900.8,223.0 L901.5,234.5 L902.1,232.4 L903.4,231.6 L905.0,231.6 L906.6,231.6 L908.2,231.6 L909.8,231.6 L911.4,231.6 L913.0,231.5 L914.6,231.5 L916.2,231.5 L917.8,231.5 L919.4,231.5 L921.0,231.5' fill='none' stroke='#9e9e9e' stroke-width='1.05' stroke-linejoin='round'/>
<path d='M10.0,314.7 L11.6,314.8 L13.2,314.9 L14.9,315.0 L16.5,315.1 L18.1,315.2 L18.8,306.5 L19.5,318.8 L20.1,315.6 L21.4,314.8 L22.9,314.8 L24.4,314.8 L25.9,314.8 L27.4,314.8 L28.9,314.8 L30.5,314.7 L32.0,314.7 L33.5,314.7 L35.0,314.7 L36.5,314.7 L37.5,314.9 L38.7,314.7 L40.0,315.9 L41.5,315.4 L43.0,315.3 L44.0,315.6 L45.3,315.8 L46.6,315.3 L46.6,315.0 L47.2,308.2 L47.6,318.3 L48.1,310.7 L48.5,317.2 L49.3,315.1 L50.1,314.7 L51.7,314.7 L53.2,314.7 L54.8,314.8 L56.4,314.8 L57.9,314.8 L59.5,314.8 L61.0,314.9 L62.6,314.9 L64.2,314.9 L65.7,314.9 L67.3,315.0 L68.8,315.0 L70.4,315.0 L72.0,315.0 L73.5,315.1 L75.1,315.1 L75.8,306.7 L76.5,319.0 L77.1,315.6 L78.4,314.8 L80.0,314.8 L81.5,314.8 L83.1,314.8 L84.7,314.8 L86.3,314.8 L87.8,314.8 L89.4,314.8 L91.0,314.8 L92.5,314.8 L94.1,314.8 L95.7,314.8 L97.2,314.8 L98.8,314.8 L100.4,314.8 L102.0,314.8 L103.5,314.9 L105.1,314.9 L105.8,306.9 L106.5,317.7 L107.1,315.6 L108.4,314.8 L109.9,314.8 L111.5,314.8 L113.0,314.8 L114.6,314.9 L116.1,314.9 L117.7,314.9 L119.2,314.9 L120.8,314.9 L122.3,314.9 L123.8,314.9 L125.4,314.9 L126.9,315.0 L128.5,315.0 L130.0,315.0 L131.6,315.0 L133.1,315.0 L133.8,307.7 L134.5,318.3 L135.1,315.6 L136.4,314.8 L138.0,314.8 L139.6,314.8 L141.1,314.8 L142.7,314.9 L144.3,314.9 L145.8,314.9 L147.4,314.9 L149.0,314.9 L150.6,314.9 L152.2,314.9 L153.7,315.0 L155.3,315.0 L156.9,315.0 L158.4,315.0 L160.0,315.0 L161.6,315.0 L162.3,306.2 L163.0,317.8 L163.6,315.6 L164.9,314.8 L166.4,314.8 L167.9,314.8 L169.4,314.8 L170.9,314.8 L172.4,314.8 L174.0,314.8 L175.5,314.9 L177.0,314.9 L178.5,314.9 L180.0,314.9 L181.5,314.9 L183.0,314.9 L184.5,314.9 L186.0,314.9 L187.6,314.9 L189.1,314.9 L190.6,314.9 L192.1,314.9 L193.6,314.9 L195.1,314.9 L195.8,306.2 L196.5,317.6 L197.1,315.6 L198.4,314.8 L200.0,314.8 L201.6,314.8 L203.2,314.8 L204.8,314.8 L206.4,314.7 L208.0,314.7 L209.6,314.7 L211.2,314.7 L212.8,314.7 L214.6,315.4 L215.6,315.5 L217.0,315.7 L218.3,315.6 L220.0,315.4 L221.2,316.1 L222.3,315.7 L223.6,315.8 L224.1,314.8 L224.5,306.1 L225.5,306.4 L225.8,318.1 L226.5,315.3 L227.6,314.8 L229.3,314.8 L230.9,314.8 L232.6,314.8 L234.3,314.8 L235.9,314.7 L237.6,314.7 L239.2,314.7 L240.9,314.7 L241.8,315.3 L243.1,315.7 L244.3,315.0 L245.4,315.8 L247.2,315.4 L248.3,315.9 L249.1,314.9 L249.8,307.8 L250.5,317.7 L251.1,315.6 L252.4,314.8 L253.9,314.8 L255.4,314.8 L256.9,314.8 L258.4,314.8 L260.0,314.8 L261.5,314.9 L263.0,314.9 L264.5,314.9 L266.0,314.9 L267.5,314.9 L269.0,314.9 L270.6,314.9 L272.1,314.9 L273.6,314.9 L275.1,314.9 L276.6,314.9 L277.3,307.0 L278.0,317.9 L278.6,315.6 L279.9,314.8 L281.6,314.8 L283.2,314.8 L284.9,314.8 L286.5,314.7 L288.2,314.7 L289.8,314.7 L291.5,314.7 L293.1,315.9 L294.4,315.1 L295.8,314.8 L297.5,315.2 L299.2,315.0 L300.4,315.0 L301.6,314.9 L301.6,314.7 L302.2,308.3 L302.6,318.0 L303.1,310.7 L303.5,317.0 L304.3,315.1 L305.1,314.7 L306.7,314.7 L308.3,314.7 L309.8,314.7 L311.4,314.7 L313.0,314.7 L314.6,314.7 L316.2,314.7 L317.8,314.7 L319.0,315.6 L320.5,315.2 L322.3,316.0 L323.2,315.9 L324.9,315.9 L326.0,315.9 L326.6,315.0 L327.3,308.2 L328.0,317.5 L328.6,315.6 L329.9,314.8 L331.5,314.8 L333.0,314.8 L334.6,314.8 L336.2,314.8 L337.8,314.8 L339.4,314.8 L340.9,314.8 L342.5,314.8 L344.1,314.8 L345.6,314.8 L347.2,314.8 L348.8,314.8 L350.4,314.8 L352.0,314.8 L353.5,314.8 L355.1,314.8 L355.8,307.9 L356.5,317.9 L357.1,315.6 L358.4,314.8 L360.0,314.8 L361.5,314.8 L363.1,314.8 L364.7,314.8 L366.2,314.8 L367.8,314.8 L369.4,314.8 L371.0,314.7 L372.5,314.7 L374.1,314.7 L375.7,314.7 L377.2,314.7 L378.8,314.7 L380.4,314.7 L382.1,315.9 L383.1,316.0 L384.6,315.9 L386.1,316.0 L386.6,315.1 L387.3,306.4 L388.0,317.9 L388.6,315.6 L389.9,314.8 L391.4,314.8 L393.0,314.8 L394.5,314.8 L396.0,314.8 L397.6,314.7 L399.1,314.7 L400.6,314.7 L402.2,314.7 L403.5,316.0 L404.9,315.0 L406.0,314.8 L407.3,314.7 L408.6,314.8 L410.0,315.4 L411.4,316.0 L412.3,315.9 L413.1,314.9 L413.8,307.0 L414.5,318.7 L415.1,315.6 L416.4,314.8 L418.0,314.8 L419.6,314.8 L421.2,314.8 L422.8,314.8 L424.5,314.8 L426.1,314.8 L427.7,314.7 L429.3,314.7 L430.9,314.7 L432.5,314.7 L434.1,314.7 L435.7,314.7 L437.5,314.7 L439.0,315.6 L439.9,315.6 L441.4,316.1 L442.6,316.2 L444.0,315.4 L444.1,315.1 L444.8,308.1 L445.5,318.8 L446.1,315.6 L447.4,314.8 L449.0,314.8 L450.5,314.8 L452.1,314.8 L453.7,314.8 L455.2,314.8 L456.8,314.8 L458.4,314.7 L459.9,314.7 L461.5,314.7 L463.1,314.7 L464.6,314.7 L466.2,314.7 L467.4,315.4 L468.8,315.8 L469.9,315.3 L471.2,315.5 L472.8,315.1 L474.5,315.2 L475.8,315.0 L477.2,316.2 L478.1,315.0 L478.8,306.5 L479.5,318.1 L480.1,315.6 L481.4,314.8 L483.0,314.8 L484.6,314.8 L486.2,314.8 L487.8,314.8 L489.4,314.8 L491.0,314.7 L492.6,314.7 L494.2,314.7 L495.8,314.7 L497.4,314.7 L498.9,315.9 L499.8,315.8 L501.5,315.5 L502.5,315.1 L503.4,314.9 L505.1,315.6 L506.6,315.9 L507.1,315.2 L507.8,306.9 L508.5,318.6 L509.1,315.6 L510.4,314.8 L511.9,314.8 L513.4,314.8 L514.9,314.8 L516.4,314.9 L518.0,314.9 L519.5,314.9 L521.0,314.9 L522.5,314.9 L524.0,314.9 L525.5,314.9 L527.0,315.0 L528.5,315.0 L530.1,315.0 L531.6,315.0 L533.1,315.0 L534.6,315.0 L536.1,315.0 L536.8,307.8 L537.5,318.7 L538.1,315.6 L539.4,314.8 L541.0,314.8 L542.7,314.7 L544.5,314.3 L546.9,314.0 L548.7,314.7 L550.3,314.8 L551.9,314.8 L553.6,314.9 L555.2,315.0 L556.8,315.0 L558.5,315.1 L560.1,315.2 L560.8,306.9 L561.5,318.3 L562.1,315.7 L563.4,315.0 L564.9,315.2 L566.4,314.9 L567.9,314.0 L569.5,314.2 L571.0,314.8 L572.5,314.9 L574.0,315.1 L575.5,315.6 L577.0,315.3 L578.5,314.4 L580.0,314.3 L581.6,314.5 L583.1,314.4 L584.6,314.8 L586.1,315.6 L586.8,308.5 L587.5,319.0 L588.1,316.0 L589.4,314.7 L590.9,314.7 L592.4,314.4 L593.9,314.0 L595.4,314.6 L596.9,315.1 L598.4,314.9 L599.9,314.7 L601.4,314.7 L603.0,314.7 L604.5,314.7 L606.0,314.7 L607.7,314.7 L609.1,314.7 L610.1,315.9 L611.5,316.1 L612.8,314.6 L614.1,315.5 L615.8,316.2 L616.1,314.9 L616.8,307.3 L617.5,317.7 L618.1,315.6 L619.4,314.8 L620.9,314.8 L622.5,314.8 L624.0,314.8 L625.5,314.8 L627.1,314.8 L628.6,314.8 L630.1,314.8 L631.7,314.7 L633.2,314.7 L634.7,314.7 L636.3,314.7 L637.8,314.7 L639.3,314.7 L640.9,314.7 L642.4,314.7 L643.3,314.6 L644.8,314.8 L646.6,314.7 L648.3,314.8 L648.6,314.7 L649.3,306.7 L650.0,317.9 L650.6,315.6 L651.9,314.8 L653.4,314.8 L654.9,314.8 L656.5,314.8 L658.0,314.8 L659.5,314.8 L661.0,314.8 L662.5,314.8 L664.1,314.7 L665.6,314.7 L667.1,314.7 L668.6,314.7 L670.2,314.7 L671.7,314.7 L673.2,314.7 L674.8,315.7 L676.5,315.8 L677.4,315.6 L678.6,315.1 L679.2,308.7 L679.6,319.2 L680.1,311.0 L680.5,317.8 L681.3,315.1 L682.1,314.7 L683.6,314.7 L685.2,314.7 L686.7,314.7 L688.2,314.7 L689.8,314.7 L691.3,314.7 L692.9,314.7 L694.4,314.7 L695.9,314.7 L697.5,314.7 L699.0,314.7 L700.5,314.7 L702.1,314.7 L703.6,314.7 L704.3,308.2 L705.0,318.7 L705.6,315.6 L706.9,314.8 L708.4,314.8 L709.9,314.8 L711.5,314.8 L713.0,314.8 L714.5,314.8 L716.0,314.7 L717.5,314.7 L719.1,314.7 L720.6,314.7 L722.1,314.7 L723.7,314.9 L725.3,315.4 L726.3,315.2 L727.7,315.3 L729.2,314.8 L729.6,315.1 L730.3,307.4 L731.0,318.7 L731.6,315.6 L732.9,314.8 L734.5,314.8 L736.0,314.8 L737.6,314.8 L739.1,314.8 L740.7,314.8 L742.2,314.8 L743.8,314.7 L745.3,314.7 L746.9,314.7 L748.4,314.7 L750.0,314.7 L751.5,314.7 L753.1,316.1 L754.7,315.5 L755.9,314.7 L757.7,315.7 L759.3,315.1 L759.6,315.0 L760.3,306.1 L761.0,319.0 L761.6,315.6 L762.9,314.8 L764.5,314.8 L766.1,314.8 L767.7,314.8 L769.3,314.8 L770.9,314.8 L772.4,314.8 L774.0,314.8 L775.6,314.7 L777.2,314.7 L778.8,314.7 L780.4,314.7 L782.0,314.7 L783.6,314.7 L785.2,314.7 L786.9,315.2 L788.4,315.6 L790.1,315.9 L791.2,314.6 L792.4,315.3 L793.6,315.9 L793.6,315.1 L794.3,308.1 L795.0,319.0 L795.6,315.6 L796.9,314.8 L798.4,314.8 L800.0,314.8 L801.5,314.8 L803.0,314.8 L804.6,314.8 L806.1,314.8 L807.7,314.8 L809.2,314.8 L810.7,314.8 L812.3,314.8 L813.8,314.8 L815.3,314.8 L816.9,314.8 L818.4,314.8 L820.0,314.8 L821.5,314.8 L823.0,314.8 L824.6,314.8 L826.1,314.8 L826.8,306.4 L827.5,319.0 L828.1,315.6 L829.4,314.8 L830.9,314.8 L832.4,314.8 L833.9,314.8 L835.5,314.8 L837.0,314.8 L838.5,314.8 L840.0,314.8 L841.5,314.8 L843.0,314.8 L844.5,314.8 L846.0,314.8 L847.6,314.8 L849.1,314.8 L850.6,314.7 L852.1,314.7 L852.7,308.6 L853.1,318.9 L853.6,310.9 L854.0,317.7 L854.8,315.1 L855.6,314.7 L857.1,314.7 L858.6,314.7 L860.1,314.7 L861.6,314.7 L863.1,314.7 L864.6,314.7 L866.1,314.7 L867.6,314.8 L869.1,314.8 L870.6,314.8 L872.1,314.8 L873.6,314.8 L875.1,314.8 L876.6,314.8 L878.1,314.8 L879.6,314.8 L881.1,314.8 L881.8,306.9 L882.5,318.7 L883.1,315.6 L884.4,314.8 L886.0,314.8 L887.6,314.8 L889.1,314.8 L890.7,314.8 L892.3,314.8 L893.9,314.8 L895.5,314.8 L897.1,314.7 L898.6,314.7 L900.2,314.7 L901.8,314.7 L903.4,314.7 L905.0,314.7 L906.6,314.7 L908.1,315.9 L909.5,314.7 L911.1,315.8 L912.2,315.5 L913.6,316.0 L913.6,315.0 L914.2,308.7 L914.6,318.6 L915.1,310.9 L915.5,317.4 L916.3,315.1 L917.1,314.7 L919.0,314.7 L921.0,314.7' fill='none' stroke='#9e9e9e' stroke-width='1.05' stroke-linejoin='round'/>
<path d='M10.0,397.9 L11.6,397.9 L13.2,397.9 L14.9,398.0 L16.5,398.0 L18.1,398.0 L18.8,391.0 L19.5,402.0 L20.1,398.8 L21.4,398.0 L23.1,398.0 L24.8,398.0 L26.5,398.0 L28.1,397.9 L29.8,397.9 L31.5,397.9 L33.2,397.9 L34.9,397.9 L36.2,398.0 L37.2,399.4 L38.4,398.0 L39.9,399.1 L40.9,398.8 L42.1,398.6 L43.1,397.9 L43.8,391.3 L44.5,402.5 L45.1,398.8 L46.4,398.0 L47.9,398.0 L49.4,398.0 L51.0,398.0 L52.5,397.9 L54.0,397.9 L55.5,397.9 L57.0,397.9 L58.6,397.9 L59.7,399.0 L61.0,399.3 L62.6,399.1 L64.3,398.2 L65.3,398.1 L66.3,397.9 L67.3,398.7 L68.1,398.3 L68.8,390.4 L69.5,402.4 L70.1,398.8 L71.4,398.0 L73.0,398.0 L74.6,398.0 L76.2,398.0 L77.9,397.9 L79.5,397.9 L81.1,397.9 L82.7,397.9 L84.3,397.9 L85.6,398.0 L87.3,398.2 L88.7,398.8 L90.5,398.9 L91.8,398.5 L92.8,399.3 L94.1,398.2 L94.1,397.9 L94.8,390.9 L95.5,401.3 L96.1,398.8 L97.4,398.0 L98.9,398.0 L100.5,398.0 L102.0,398.0 L103.6,398.0 L105.1,398.0 L106.6,398.0 L108.2,398.0 L109.7,398.0 L111.2,398.0 L112.8,398.0 L114.3,398.0 L115.9,397.9 L117.4,397.9 L118.9,397.9 L120.5,397.9 L122.0,397.9 L123.6,397.9 L125.1,397.9 L125.8,389.7 L126.5,402.0 L127.1,398.8 L128.4,398.0 L130.1,398.0 L131.9,397.9 L133.6,397.9 L135.4,397.0 L137.8,397.0 L139.6,397.9 L141.2,397.9 L142.7,398.0 L144.2,398.0 L145.8,398.0 L147.3,398.1 L148.9,398.1 L150.4,398.1 L152.0,398.1 L153.5,398.2 L155.1,398.2 L156.6,398.2 L157.3,390.8 L158.0,401.8 L158.6,398.8 L159.9,398.0 L161.5,398.0 L163.0,398.0 L164.6,398.0 L166.1,398.0 L167.7,397.9 L169.3,397.9 L170.8,397.9 L172.4,397.9 L173.9,397.9 L175.5,397.9 L176.6,398.0 L178.0,398.1 L179.1,398.0 L180.6,397.8 L182.1,398.1 L183.1,397.9 L183.8,389.5 L184.5,401.1 L185.1,398.8 L186.4,398.0 L188.0,398.0 L189.6,398.0 L191.1,398.0 L192.7,398.0 L194.3,398.0 L195.8,398.0 L197.4,398.0 L199.0,398.0 L200.6,398.0 L202.2,398.0 L203.7,398.0 L205.3,398.0 L206.9,398.0 L208.4,398.0 L210.0,398.0 L211.6,398.0 L212.3,390.5 L213.0,400.9 L213.6,398.8 L214.9,398.0 L216.4,398.0 L217.9,398.0 L219.4,398.0 L220.9,398.0 L222.4,398.0 L224.0,398.0 L225.5,398.0 L227.0,398.1 L228.5,398.1 L230.0,398.1 L231.5,398.1 L233.0,398.1 L234.5,398.1 L236.0,398.1 L237.6,398.1 L239.1,398.1 L240.6,398.1 L242.1,398.1 L243.6,398.1 L245.1,398.1 L245.8,390.7 L246.5,402.2 L247.1,398.8 L248.4,398.0 L250.0,398.0 L251.5,397.9 L253.1,397.9 L254.6,397.9 L256.4,397.5 L258.8,397.2 L260.6,397.9 L262.2,397.9 L263.8,398.2 L265.4,398.2 L267.0,398.5 L268.6,398.6 L270.1,397.7 L271.7,396.9 L273.3,397.4 L274.9,398.1 L276.5,398.2 L278.1,398.4 L278.7,393.0 L279.1,403.0 L279.6,395.4 L280.0,402.0 L280.8,399.4 L281.6,398.6 L283.1,397.6 L284.6,397.1 L286.2,397.4 L287.7,397.5 L289.2,397.3 L290.7,397.9 L292.2,398.9 L293.7,399.0 L295.3,398.1 L296.8,397.8 L298.3,397.9 L299.8,397.9 L301.3,397.9 L302.9,397.9 L304.0,399.1 L305.2,398.1 L306.5,398.3 L308.3,398.0 L309.1,398.4 L309.8,391.3 L310.5,402.3 L311.1,398.8 L312.4,398.0 L313.9,398.0 L315.5,398.0 L317.0,398.0 L318.6,398.0 L320.1,398.3 L321.6,398.4 L323.2,398.4 L324.7,398.8 L326.2,398.9 L327.8,398.3 L328.9,397.7 L330.0,397.1 L331.8,397.7 L333.5,397.0 L334.7,399.0 L335.7,399.0 L336.6,398.2 L337.3,389.5 L338.0,400.8 L338.6,398.9 L339.9,398.4 L341.4,399.2 L342.9,399.6 L344.4,399.2 L345.9,398.0 L347.4,397.0 L348.9,396.7 L350.4,397.1 L352.0,397.4 L353.5,397.2 L355.0,397.1 L356.5,397.5 L358.0,398.6 L358.9,400.5 L360.3,399.9 L361.5,400.7 L362.6,399.5 L363.7,398.2 L364.1,398.2 L364.5,389.7 L365.5,389.9 L365.8,400.7 L366.5,398.2 L367.6,397.7 L369.2,397.3 L370.7,396.6 L372.3,396.4 L373.9,397.2 L375.5,398.5 L377.0,399.2 L378.6,399.1 L380.2,398.6 L381.7,398.4 L383.1,398.9 L384.2,399.4 L385.7,399.1 L387.1,397.1 L388.1,397.4 L389.4,397.2 L390.3,397.7 L391.5,398.5 L391.6,397.7 L392.3,390.2 L393.0,400.9 L393.6,399.2 L394.9,398.5 L396.5,398.4 L398.1,398.7 L399.7,399.3 L401.3,399.3 L402.9,398.4 L404.5,397.1 L406.1,396.5 L407.3,396.8 L408.9,397.7 L410.0,398.0 L411.4,397.3 L412.8,398.0 L414.1,397.9 L415.7,399.7 L417.3,399.1 L418.1,398.8 L418.5,391.0 L419.5,391.0 L419.8,402.1 L420.5,398.5 L421.6,398.0 L423.2,398.0 L424.7,398.0 L426.3,398.0 L427.9,398.0 L429.4,398.0 L431.0,398.1 L432.6,398.1 L434.1,398.1 L435.7,398.1 L437.3,398.1 L438.8,398.1 L440.4,398.1 L442.0,398.1 L443.5,398.1 L445.1,398.1 L445.8,390.3 L446.5,401.7 L447.1,398.8 L448.4,398.0 L450.0,398.0 L451.5,398.0 L453.1,398.0 L454.7,398.0 L456.3,398.0 L457.8,398.0 L459.4,397.9 L461.0,397.9 L462.6,397.9 L464.1,397.9 L465.7,397.9 L467.3,397.9 L468.9,397.9 L470.0,398.1 L471.0,398.2 L472.6,397.8 L473.6,398.9 L474.7,397.8 L476.1,398.7 L477.5,398.9 L478.5,399.2 L480.0,397.9 L481.0,398.6 L481.6,398.2 L482.3,390.8 L483.0,400.9 L483.6,398.8 L484.9,398.0 L486.4,398.0 L488.0,398.0 L489.5,398.0 L491.0,398.0 L492.6,398.0 L494.1,398.0 L495.6,397.9 L497.2,397.9 L498.7,397.9 L500.2,397.9 L501.8,397.9 L503.3,397.9 L504.8,397.9 L506.4,397.9 L508.0,398.0 L509.5,399.0 L510.5,399.1 L512.2,398.4 L513.5,399.1 L514.9,398.4 L516.1,399.0 L516.1,398.1 L516.8,390.9 L517.5,401.3 L518.1,398.8 L519.4,398.0 L520.9,398.0 L522.4,398.0 L523.9,398.1 L525.4,398.1 L526.9,398.1 L528.5,398.1 L530.0,398.1 L531.5,398.1 L533.0,398.2 L534.5,398.2 L536.0,398.2 L537.5,398.2 L539.0,398.2 L540.5,398.2 L542.0,398.3 L543.6,398.3 L545.1,398.3 L546.6,398.3 L548.1,398.3 L549.6,398.3 L551.1,398.4 L551.5,389.7 L552.5,390.0 L552.8,402.2 L553.5,398.5 L554.6,398.0 L556.2,398.0 L557.7,398.0 L559.3,398.0 L560.9,398.0 L562.4,398.0 L564.0,397.9 L565.6,397.9 L567.2,397.9 L568.7,397.9 L570.3,397.9 L571.9,397.9 L573.4,397.9 L575.2,398.2 L576.5,398.8 L577.7,398.6 L578.6,398.5 L580.0,397.8 L581.0,399.4 L582.6,399.3 L584.1,399.1 L585.8,399.2 L586.1,397.9 L586.8,390.1 L587.5,401.2 L588.1,398.8 L589.4,398.0 L590.9,398.0 L592.5,398.0 L594.0,398.0 L595.5,398.0 L597.0,398.0 L598.6,398.0 L600.1,397.9 L601.6,397.9 L603.1,397.9 L604.7,397.9 L606.2,397.9 L607.7,397.9 L609.2,397.9 L610.8,397.9 L612.5,398.8 L613.6,398.6 L614.9,399.3 L616.1,398.3 L617.6,398.0 L619.0,399.3 L620.1,398.2 L620.8,390.8 L621.5,401.5 L622.1,398.8 L623.4,398.0 L625.0,398.0 L626.6,398.0 L628.2,398.0 L629.8,398.0 L631.4,398.0 L633.0,398.0 L634.6,397.9 L636.1,397.9 L637.7,397.9 L639.3,397.9 L640.9,397.9 L642.5,397.9 L644.1,397.9 L645.1,398.3 L646.4,398.3 L647.5,397.9 L648.9,399.1 L650.1,398.2 L650.7,391.7 L651.1,401.9 L651.6,394.1 L652.0,400.7 L652.8,398.3 L653.6,397.9 L655.1,397.9 L656.7,397.9 L658.2,397.9 L659.7,398.0 L661.2,398.0 L662.8,398.0 L664.3,398.0 L665.8,398.0 L667.4,398.0 L668.9,398.1 L670.4,398.1 L671.9,398.1 L673.5,398.1 L675.0,398.1 L676.5,398.1 L678.0,398.1 L679.6,398.2 L681.1,398.2 L681.8,390.1 L682.5,401.5 L683.1,398.8 L684.4,398.0 L686.0,398.0 L687.5,398.0 L689.1,398.0 L690.6,398.0 L692.2,398.0 L693.7,398.0 L695.3,398.0 L696.9,397.9 L698.4,397.9 L700.0,397.9 L701.5,397.9 L703.1,397.9 L704.7,397.9 L706.2,397.9 L707.8,397.9 L709.3,397.9 L710.7,398.4 L712.1,397.8 L713.3,399.2 L714.4,398.7 L715.8,398.3 L716.1,398.4 L716.5,390.8 L717.5,391.1 L717.8,402.1 L718.5,398.5 L719.6,398.0 L721.1,398.0 L722.7,398.0 L724.2,398.0 L725.8,398.0 L727.3,398.0 L728.9,397.9 L730.4,397.9 L732.0,397.9 L733.5,397.9 L735.1,397.9 L736.6,397.9 L737.9,397.9 L739.2,398.5 L740.7,398.0 L741.8,399.3 L743.4,398.0 L744.6,398.4 L746.1,398.8 L747.8,399.1 L748.6,398.2 L749.3,389.8 L750.0,402.0 L750.6,398.8 L751.9,398.0 L753.4,398.0 L755.0,398.0 L756.5,398.0 L758.1,398.0 L759.6,397.9 L761.2,397.9 L762.7,397.9 L764.2,397.9 L765.8,397.9 L767.3,397.9 L768.9,399.3 L769.9,399.2 L770.8,399.0 L772.2,398.6 L774.0,398.7 L775.2,399.1 L776.9,398.8 L778.2,398.5 L778.6,398.1 L779.3,389.9 L780.0,401.2 L780.6,398.8 L781.9,398.0 L783.4,398.0 L784.9,398.0 L786.4,398.0 L787.9,398.0 L789.5,397.9 L791.0,397.9 L792.5,397.9 L794.0,397.9 L795.5,397.9 L797.0,397.9 L798.2,399.1 L799.9,398.6 L801.2,398.1 L802.4,398.0 L803.8,398.7 L804.7,399.3 L805.1,398.1 L805.8,389.6 L806.5,402.2 L807.1,398.8 L808.4,398.0 L810.0,398.0 L811.6,398.0 L813.2,398.0 L814.8,398.0 L816.3,397.9 L817.9,397.9 L819.5,397.9 L821.1,397.9 L822.7,397.9 L824.4,397.8 L825.4,398.7 L826.7,399.3 L828.3,398.7 L830.1,398.6 L831.1,398.2 L831.8,390.0 L832.5,401.4 L833.1,398.8 L834.4,398.0 L836.0,398.0 L837.5,398.0 L839.1,398.0 L840.7,398.0 L842.3,398.0 L843.8,397.9 L845.4,397.9 L847.0,397.9 L848.6,397.9 L850.1,397.9 L851.7,397.9 L853.3,397.9 L855.0,398.9 L856.4,398.0 L857.7,398.4 L859.1,398.7 L860.8,399.3 L861.1,398.1 L861.8,390.5 L862.5,401.8 L863.1,398.8 L864.4,398.0 L866.0,398.0 L867.6,398.0 L869.2,398.0 L870.7,398.0 L872.3,398.0 L873.9,397.9 L875.5,397.9 L877.1,397.9 L878.7,397.9 L880.3,397.9 L881.9,397.9 L883.5,398.1 L884.7,399.4 L886.3,398.6 L887.3,399.2 L888.8,399.1 L890.6,399.2 L891.1,398.1 L891.8,391.1 L892.5,401.2 L893.1,398.8 L894.4,398.0 L896.0,398.0 L897.6,398.0 L899.2,398.0 L900.8,398.0 L902.4,398.0 L904.1,397.9 L905.7,397.9 L907.3,397.9 L908.9,397.9 L910.5,397.9 L912.1,397.9 L913.2,398.8 L914.6,398.4 L916.4,398.8 L917.3,398.5 L918.6,398.3 L918.6,398.2 L919.3,391.4 L920.0,401.2 L920.6,398.8 L921.9,398.0 L921.0,397.9' fill='none' stroke='#9e9e9e' stroke-width='1.05' stroke-linejoin='round'/>
</svg>
<div class='t' style='left:15.30px;top:30.94px;font-size:15.6px;font-weight:normal;color:#262626;-webkit-text-stroke:0.35px #262626;transform:scaleX(1.0724);'>II</div>
<div class='t' style='left:14.20px;top:89.94px;font-size:15.6px;font-weight:normal;color:#2e2e2e;-webkit-text-stroke:0.25px #2e2e2e;transform:scaleX(0.9489);'>20:41:00 31 Dec</div>
<div class='t' style='left:14.20px;top:172.99px;font-size:15.6px;font-weight:normal;color:#2e2e2e;-webkit-text-stroke:0.25px #2e2e2e;transform:scaleX(0.9489);'>20:42:00 31 Dec</div>
<div class='t' style='left:14.20px;top:256.04px;font-size:15.6px;font-weight:normal;color:#2e2e2e;-webkit-text-stroke:0.25px #2e2e2e;transform:scaleX(0.9489);'>20:43:00 31 Dec</div>
<div class='t' style='left:14.20px;top:339.09px;font-size:15.6px;font-weight:normal;color:#2e2e2e;-webkit-text-stroke:0.25px #2e2e2e;transform:scaleX(0.9489);'>20:44:00 31 Dec</div>
<div class='t' style='left:14.20px;top:422.14px;font-size:15.6px;font-weight:normal;color:#2e2e2e;-webkit-text-stroke:0.25px #2e2e2e;transform:scaleX(0.9489);'>20:45:00 31 Dec</div>
<div class='abs' style='left:924px;top:0;width:1124px;height:440px;background:#fff;'></div>
<div class='abs' style='left:924px;top:0;width:17px;height:3px;background:linear-gradient(#e4e4e4,#fff);'></div><div class='abs' style='left:941px;top:0;width:1107px;height:6.5px;background:linear-gradient(#d9d9d9,#e3e3e3 30%,#eaeaea 80%,#fff);'></div>
<div class='abs' style='left:955px;top:60.9px;width:1088px;height:1.6px;background:#c4c4c4;'></div>
<div class='abs' style='left:1076.2px;top:88.7px;width:12.9px;height:2.3px;background:#333;'></div>
<div class='abs' style='left:2043.5px;top:315px;width:5px;height:130px;background:#c9c9c9;border-radius:3px;'></div>
<svg width='2048' height='440' viewBox='0 0 2048 440'>
<path d='M932.5,6.3h11v2.2h-1.8v6.2l3.2,1.6v2h-6.1v7.3h-1.6v-7.3h-6.1v-2l3.2,-1.6v-6.2h-1.8z' fill='#9b9b9b'/>
<rect x='1074' y='126.5' width='969' height='1.6' fill='#ebebeb'/>
<rect x='1074' y='169.6' width='969' height='1.6' fill='#ebebeb'/>
<rect x='1074' y='212.8' width='969' height='1.6' fill='#ebebeb'/>
<rect x='1074' y='255.9' width='969' height='1.6' fill='#ebebeb'/>
<rect x='1074' y='299.1' width='969' height='1.6' fill='#ebebeb'/>
<rect x='1074' y='342.2' width='969' height='1.6' fill='#ebebeb'/>
<rect x='1112.4' y='106.5' width='1.2' height='334' fill='#e6e6e6'/>
<rect x='1228.7' y='106.5' width='1.2' height='334' fill='#e6e6e6'/>
<rect x='1345.0' y='106.5' width='1.2' height='334' fill='#e6e6e6'/>
<rect x='1461.3' y='106.5' width='1.2' height='334' fill='#e6e6e6'/>
<rect x='1577.6' y='106.5' width='1.2' height='334' fill='#e6e6e6'/>
<rect x='1693.9' y='106.5' width='1.2' height='334' fill='#e6e6e6'/>
<rect x='1810.2' y='106.5' width='1.2' height='334' fill='#e6e6e6'/>
<rect x='1926.5' y='106.5' width='1.2' height='334' fill='#e6e6e6'/>
</svg>
<div class='t' style='left:954.20px;top:27.70px;font-size:28px;font-weight:bold;color:#333;transform:scaleX(0.8785);'>Daily BPM</div>
<div class='t' style='left:954.60px;top:80.94px;font-size:18.3px;font-weight:bold;color:#333;transform:scaleX(0.9955);'>31 Dec 19:00</div>
<div class='t' style='left:1097.90px;top:80.94px;font-size:18.3px;font-weight:bold;color:#333;transform:scaleX(0.9939);'>01 Jan 19:00</div>
<div class='t' style='left:962.80px;top:175.60px;font-size:16px;font-weight:normal;color:#444;-webkit-text-stroke:0.2px #444;transform:scaleX(0.9114);'>BPM</div>
<div class='t' style='left:977.00px;top:204.68px;font-size:14.5px;font-weight:normal;color:#7c7c7c;-webkit-text-stroke:0.2px #7c7c7c;transform:scaleX(0.9596);'>Max</div>
<div class='t' style='left:977.00px;top:218.68px;font-size:14.5px;font-weight:normal;color:#7c7c7c;-webkit-text-stroke:0.2px #7c7c7c;transform:scaleX(0.9016);'>Avg</div>
<div class='t' style='left:977.00px;top:232.68px;font-size:14.5px;font-weight:normal;color:#7c7c7c;-webkit-text-stroke:0.2px #7c7c7c;transform:scaleX(0.9925);'>Min</div>
<div class='t' style='left:1039.67px;top:120.60px;font-size:14px;font-weight:normal;color:#666;'>110</div>
<div class='t' style='left:1038.64px;top:163.75px;font-size:14px;font-weight:normal;color:#666;'>100</div>
<div class='t' style='left:1046.42px;top:206.90px;font-size:14px;font-weight:normal;color:#666;'>90</div>
<div class='t' style='left:1046.42px;top:250.05px;font-size:14px;font-weight:normal;color:#666;'>80</div>
<div class='t' style='left:1046.42px;top:293.20px;font-size:14px;font-weight:normal;color:#666;'>70</div>
<div class='t' style='left:1046.42px;top:336.35px;font-size:14px;font-weight:normal;color:#666;'>60</div>
<div class='t' style='left:1120.30px;top:115.65px;font-size:15px;font-weight:normal;color:#6c6c6c;-webkit-text-stroke:0.2px #6c6c6c;transform:scaleX(0.9447);'>31 Dec 19:00</div>
<div class='t' style='left:1236.60px;top:115.65px;font-size:15px;font-weight:normal;color:#6c6c6c;-webkit-text-stroke:0.2px #6c6c6c;transform:scaleX(0.9447);'>31 Dec 22:00</div>
<div class='t' style='left:1352.90px;top:115.65px;font-size:15px;font-weight:normal;color:#6c6c6c;-webkit-text-stroke:0.2px #6c6c6c;transform:scaleX(0.9326);'>01 Jan 01:00</div>
<div class='t' style='left:1469.20px;top:115.65px;font-size:15px;font-weight:normal;color:#6c6c6c;-webkit-text-stroke:0.2px #6c6c6c;transform:scaleX(0.9326);'>01 Jan 04:00</div>
<div class='t' style='left:1585.50px;top:115.65px;font-size:15px;font-weight:normal;color:#6c6c6c;-webkit-text-stroke:0.2px #6c6c6c;transform:scaleX(0.9326);'>01 Jan 07:00</div>
<div class='t' style='left:1701.80px;top:115.65px;font-size:15px;font-weight:normal;color:#6c6c6c;-webkit-text-stroke:0.2px #6c6c6c;transform:scaleX(0.9326);'>01 Jan 10:00</div>
<div class='t' style='left:1818.10px;top:115.65px;font-size:15px;font-weight:normal;color:#6c6c6c;-webkit-text-stroke:0.2px #6c6c6c;transform:scaleX(0.9326);'>01 Jan 13:00</div>
<div class='t' style='left:1934.40px;top:115.65px;font-size:15px;font-weight:normal;color:#6c6c6c;-webkit-text-stroke:0.2px #6c6c6c;transform:scaleX(0.9326);'>01 Jan 16:00</div>
<svg width='2048' height='440' viewBox='0 0 2048 440'>
<defs><linearGradient id='gm' x1='0' y1='0' x2='0' y2='1'><stop offset='0' stop-color='#9e687d'/><stop offset='1' stop-color='#d3aebb'/></linearGradient><linearGradient id='gb' x1='0' y1='0' x2='0' y2='1'><stop offset='0' stop-color='#a9c8d8'/><stop offset='1' stop-color='#3f7fa1'/></linearGradient></defs>
<rect x='963' y='210' width='7' height='7' fill='url(#gm)'/>
<rect x='963' y='225.6' width='7' height='2.6' fill='#222'/>
<rect x='963' y='238.2' width='7' height='7' fill='url(#gb)'/>
<rect x='1119.46' y='240' width='3.23' height='60.0' fill='url(#gm)'/><rect x='1119.46' y='300' width='3.23' height='56.4' fill='url(#gb)'/><rect x='1119.56' y='299.3' width='3.03' height='1.4' fill='#2a2a2a'/>
<rect x='1122.69' y='223' width='3.23' height='68.5' fill='url(#gm)'/><rect x='1122.69' y='291.5' width='3.23' height='78.0' fill='url(#gb)'/><rect x='1122.79' y='290.8' width='3.03' height='1.4' fill='#2a2a2a'/>
<rect x='1125.92' y='210' width='3.23' height='68.7' fill='url(#gm)'/><rect x='1125.92' y='278.7' width='3.23' height='69.0' fill='url(#gb)'/><rect x='1126.02' y='278.0' width='3.03' height='1.4' fill='#2a2a2a'/>
<rect x='1129.15' y='266' width='3.23' height='54.7' fill='url(#gm)'/><rect x='1129.15' y='320.7' width='3.23' height='40.0' fill='url(#gb)'/><rect x='1129.25' y='320.0' width='3.03' height='1.4' fill='#2a2a2a'/>
<rect x='1132.38' y='162' width='3.23' height='124.7' fill='url(#gm)'/><rect x='1132.38' y='286.7' width='3.23' height='82.8' fill='url(#gb)'/><rect x='1132.48' y='286.0' width='3.03' height='1.4' fill='#2a2a2a'/>
<rect x='1135.61' y='145' width='3.23' height='104.0' fill='url(#gm)'/><rect x='1135.61' y='249' width='3.23' height='68.5' fill='url(#gb)'/><rect x='1135.71' y='248.3' width='3.03' height='1.4' fill='#2a2a2a'/>
<rect x='1138.84' y='158' width='3.23' height='51.0' fill='url(#gm)'/><rect x='1138.84' y='209' width='3.23' height='112.5' fill='url(#gb)'/><rect x='1138.94' y='208.3' width='3.03' height='1.4' fill='#2a2a2a'/>
<rect x='1142.08' y='184' width='3.23' height='60.5' fill='url(#gm)'/><rect x='1142.08' y='244.5' width='3.23' height='64.7' fill='url(#gb)'/><rect x='1142.17' y='243.8' width='3.03' height='1.4' fill='#2a2a2a'/>
<rect x='1145.31' y='188' width='3.23' height='61.0' fill='url(#gm)'/><rect x='1145.31' y='249' width='3.23' height='60.2' fill='url(#gb)'/><rect x='1145.41' y='248.3' width='3.03' height='1.4' fill='#2a2a2a'/>
<rect x='1148.54' y='201' width='3.23' height='64.5' fill='url(#gm)'/><rect x='1148.54' y='265.5' width='3.23' height='68.7' fill='url(#gb)'/><rect x='1148.64' y='264.8' width='3.03' height='1.4' fill='#2a2a2a'/>
<rect x='1151.77' y='206' width='3.23' height='72.4' fill='url(#gm)'/><rect x='1151.77' y='278.4' width='3.23' height='51.8' fill='url(#gb)'/><rect x='1151.87' y='277.7' width='3.03' height='1.4' fill='#2a2a2a'/>
<rect x='1155.00' y='257' width='3.23' height='63.7' fill='url(#gm)'/><rect x='1155.00' y='320.7' width='3.23' height='35.7' fill='url(#gb)'/><rect x='1155.10' y='320.0' width='3.03' height='1.4' fill='#2a2a2a'/>
<rect x='1158.23' y='227' width='3.23' height='77.8' fill='url(#gm)'/><rect x='1158.23' y='304.8' width='3.23' height='46.9' fill='url(#gb)'/><rect x='1158.33' y='304.1' width='3.03' height='1.4' fill='#2a2a2a'/>
<rect x='1161.46' y='106' width='3.23' height='194.0' fill='url(#gm)'/><rect x='1161.46' y='300' width='3.23' height='56.0' fill='url(#gb)'/><rect x='1161.56' y='299.3' width='3.03' height='1.4' fill='#2a2a2a'/>
<rect x='1164.69' y='231' width='3.23' height='59.0' fill='url(#gm)'/><rect x='1164.69' y='290' width='3.23' height='66.4' fill='url(#gb)'/><rect x='1164.79' y='289.3' width='3.03' height='1.4' fill='#2a2a2a'/>
<rect x='1167.92' y='231.2' width='3.23' height='51.7' fill='url(#gm)'/><rect x='1167.92' y='282.9' width='3.23' height='51.8' fill='url(#gb)'/><rect x='1168.02' y='282.2' width='3.03' height='1.4' fill='#2a2a2a'/>
<rect x='1171.15' y='231.2' width='3.23' height='64.7' fill='url(#gm)'/><rect x='1171.15' y='295.9' width='3.23' height='51.7' fill='url(#gb)'/><rect x='1171.25' y='295.2' width='3.03' height='1.4' fill='#2a2a2a'/>
<rect x='1174.38' y='235.5' width='3.23' height='56.5' fill='url(#gm)'/><rect x='1174.38' y='292' width='3.23' height='42.9' fill='url(#gb)'/><rect x='1174.48' y='291.3' width='3.03' height='1.4' fill='#2a2a2a'/>
<rect x='1177.61' y='235.5' width='3.23' height='51.8' fill='url(#gm)'/><rect x='1177.61' y='287.3' width='3.23' height='47.6' fill='url(#gb)'/><rect x='1177.71' y='286.6' width='3.03' height='1.4' fill='#2a2a2a'/>
<rect x='1180.84' y='175' width='3.23' height='110.0' fill='url(#gm)'/><rect x='1180.84' y='285' width='3.23' height='66.7' fill='url(#gb)'/><rect x='1180.94' y='284.3' width='3.03' height='1.4' fill='#2a2a2a'/>
<rect x='1184.07' y='210' width='3.23' height='64.0' fill='url(#gm)'/><rect x='1184.07' y='274' width='3.23' height='66.0' fill='url(#gb)'/><rect x='1184.17' y='273.3' width='3.03' height='1.4' fill='#2a2a2a'/>
<rect x='1187.30' y='240' width='3.23' height='45.0' fill='url(#gm)'/><rect x='1187.30' y='285' width='3.23' height='55.0' fill='url(#gb)'/><rect x='1187.40' y='284.3' width='3.03' height='1.4' fill='#2a2a2a'/>
<rect x='1190.53' y='179.5' width='3.23' height='100.5' fill='url(#gm)'/><rect x='1190.53' y='280' width='3.23' height='60.0' fill='url(#gb)'/><rect x='1190.63' y='279.3' width='3.03' height='1.4' fill='#2a2a2a'/>
<rect x='1193.76' y='240' width='3.23' height='45.0' fill='url(#gm)'/><rect x='1193.76' y='285' width='3.23' height='55.0' fill='url(#gb)'/><rect x='1193.86' y='284.3' width='3.03' height='1.4' fill='#2a2a2a'/>
<rect x='1196.99' y='240' width='3.23' height='45.0' fill='url(#gm)'/><rect x='1196.99' y='285' width='3.23' height='55.0' fill='url(#gb)'/><rect x='1197.09' y='284.3' width='3.03' height='1.4' fill='#2a2a2a'/>
<rect x='1200.22' y='227' width='3.23' height='53.0' fill='url(#gm)'/><rect x='1200.22' y='280' width='3.23' height='60.0' fill='url(#gb)'/><rect x='1200.32' y='279.3' width='3.03' height='1.4' fill='#2a2a2a'/>
<rect x='1203.46' y='208' width='3.23' height='61.7' fill='url(#gm)'/><rect x='1203.46' y='269.7' width='3.23' height='70.3' fill='url(#gb)'/><rect x='1203.56' y='269.0' width='3.03' height='1.4' fill='#2a2a2a'/>
<rect x='1206.69' y='218' width='3.23' height='56.0' fill='url(#gm)'/><rect x='1206.69' y='274' width='3.23' height='66.0' fill='url(#gb)'/><rect x='1206.79' y='273.3' width='3.03' height='1.4' fill='#2a2a2a'/>
<rect x='1209.92' y='208' width='3.23' height='72.0' fill='url(#gm)'/><rect x='1209.92' y='280' width='3.23' height='60.0' fill='url(#gb)'/><rect x='1210.02' y='279.3' width='3.03' height='1.4' fill='#2a2a2a'/>
<rect x='1213.15' y='214' width='3.23' height='51.5' fill='url(#gm)'/><rect x='1213.15' y='265.5' width='3.23' height='74.5' fill='url(#gb)'/><rect x='1213.25' y='264.8' width='3.03' height='1.4' fill='#2a2a2a'/>
<rect x='1216.38' y='208' width='3.23' height='72.0' fill='url(#gm)'/><rect x='1216.38' y='280' width='3.23' height='60.0' fill='url(#gb)'/><rect x='1216.48' y='279.3' width='3.03' height='1.4' fill='#2a2a2a'/>
<rect x='1219.61' y='245' width='3.23' height='40.0' fill='url(#gm)'/><rect x='1219.61' y='285' width='3.23' height='55.0' fill='url(#gb)'/><rect x='1219.71' y='284.3' width='3.03' height='1.4' fill='#2a2a2a'/>
<rect x='1222.84' y='257' width='3.23' height='33.0' fill='url(#gm)'/><rect x='1222.84' y='290' width='3.23' height='50.0' fill='url(#gb)'/><rect x='1222.94' y='289.3' width='3.03' height='1.4' fill='#2a2a2a'/>
<rect x='1226.07' y='244.5' width='3.23' height='40.5' fill='url(#gm)'/><rect x='1226.07' y='285' width='3.23' height='55.0' fill='url(#gb)'/><rect x='1226.17' y='284.3' width='3.03' height='1.4' fill='#2a2a2a'/>
<rect x='1229.30' y='208' width='3.23' height='72.0' fill='url(#gm)'/><rect x='1229.30' y='280' width='3.23' height='60.0' fill='url(#gb)'/><rect x='1229.40' y='279.3' width='3.03' height='1.4' fill='#2a2a2a'/>
<rect x='1232.53' y='197' width='3.23' height='83.0' fill='url(#gm)'/><rect x='1232.53' y='280' width='3.23' height='60.0' fill='url(#gb)'/><rect x='1232.63' y='279.3' width='3.03' height='1.4' fill='#2a2a2a'/>
<rect x='1235.76' y='227' width='3.23' height='53.0' fill='url(#gm)'/><rect x='1235.76' y='280' width='3.23' height='60.0' fill='url(#gb)'/><rect x='1235.86' y='279.3' width='3.03' height='1.4' fill='#2a2a2a'/>
<rect x='1238.99' y='175' width='3.23' height='82.3' fill='url(#gm)'/><rect x='1238.99' y='257.3' width='3.23' height='82.7' fill='url(#gb)'/><rect x='1239.09' y='256.6' width='3.03' height='1.4' fill='#2a2a2a'/>
<rect x='1242.22' y='223' width='3.23' height='57.0' fill='url(#gm)'/><rect x='1242.22' y='280' width='3.23' height='60.0' fill='url(#gb)'/><rect x='1242.32' y='279.3' width='3.03' height='1.4' fill='#2a2a2a'/>
<rect x='1245.45' y='227' width='3.23' height='53.0' fill='url(#gm)'/><rect x='1245.45' y='280' width='3.23' height='60.0' fill='url(#gb)'/><rect x='1245.55' y='279.3' width='3.03' height='1.4' fill='#2a2a2a'/>
<rect x='1119' y='411' width='3.4' height='13.7' fill='#dd8b7c'/>
<rect x='1245.2' y='411' width='3.4' height='13.7' fill='#dd8b7c'/>
<rect x='1115.8' y='425.3' width='3.3' height='15' fill='#b991de'/>
<rect x='1164.5' y='425.3' width='3.3' height='15' fill='#b991de'/>
<rect x='1242.2' y='425.3' width='3.3' height='15' fill='#b991de'/>
<rect x='1178.2' y='107' width='1' height='333' fill='#707070'/>
</svg>
<div class='t' style='left:1043.60px;top:384.21px;font-size:13.4px;font-weight:normal;color:#3a3a3a;-webkit-text-stroke:0.2px #3a3a3a;transform:scaleX(0.9864);'>AFib/AFlu</div>
<div class='t' style='left:1004.80px;top:398.11px;font-size:13.4px;font-weight:normal;color:#3a3a3a;-webkit-text-stroke:0.2px #3a3a3a;transform:scaleX(0.9927);'>Supraventricular</div>
<div class='t' style='left:1038.10px;top:412.11px;font-size:13.4px;font-weight:normal;color:#3a3a3a;-webkit-text-stroke:0.2px #3a3a3a;transform:scaleX(1.0037);'>Ventricular</div>
<div class='t' style='left:1063.60px;top:425.91px;font-size:13.4px;font-weight:normal;color:#3a3a3a;-webkit-text-stroke:0.2px #3a3a3a;transform:scaleX(0.9632);'>Blocks</div>
<div class='abs' style='left:1183.4px;top:275px;width:95.6px;height:129px;background:#fff;border:1px solid #d9d9d9;border-radius:2px;box-shadow:0 0 2px rgba(0,0,0,0.10);'></div>
<div class='t' style='left:1188.20px;top:281.32px;font-size:13.5px;font-weight:bold;color:#000;transform:scaleX(0.9534);'>31 Dec 20:40</div>
<div class='t' style='left:1196.40px;top:301.25px;font-size:13px;font-weight:normal;color:#0a0a0a;transform:scaleX(0.9629);'>max: <b>85</b> <span style='font-size:11px;color:#c8c8c8'>BPM</span></div>
<div class='t' style='left:1196.40px;top:314.95px;font-size:13px;font-weight:normal;color:#0a0a0a;transform:scaleX(0.9554);'>avg: <b>73</b> <span style='font-size:11px;color:#c8c8c8'>BPM</span></div>
<div class='t' style='left:1196.40px;top:328.55px;font-size:13px;font-weight:normal;color:#0a0a0a;transform:scaleX(0.9770);'>min: <b>62</b> <span style='font-size:11px;color:#c8c8c8'>BPM</span></div>
<div class='t' style='left:1195.90px;top:347.55px;font-size:13px;font-weight:normal;color:#0a0a0a;'>A: <b>-</b></div>
<div class='t' style='left:1195.90px;top:361.45px;font-size:13px;font-weight:normal;color:#0a0a0a;'>S: <b>-</b></div>
<div class='t' style='left:1195.90px;top:375.35px;font-size:13px;font-weight:normal;color:#0a0a0a;'>V: <b>-</b></div>
<div class='t' style='left:1195.90px;top:389.15px;font-size:13px;font-weight:normal;color:#0a0a0a;'>B: <b>-</b></div>
<svg width='2048' height='440' viewBox='0 0 2048 440'>
<rect x='1189.4' y='305' width='4.2' height='8.3' fill='#b27d92'/>
<rect x='1189.4' y='318.6' width='4.2' height='8.3' fill='#444'/>
<rect x='1189.4' y='332.2' width='4.2' height='8.3' fill='#5d97b6'/>
<rect x='1189.2' y='350.4' width='4.2' height='8.5' fill='#f4b26e'/>
<rect x='1189.2' y='364.3' width='4.2' height='8.5' fill='#a6d3e8'/>
<rect x='1189.2' y='378.2' width='4.2' height='8.5' fill='#e08b7c'/>
<rect x='1189.2' y='392' width='4.2' height='8.5' fill='#bb93e2'/>
<circle cx='1178.8' cy='235.5' r='6.9' fill='none' stroke='#1b7db0' stroke-width='2.1'/>
<circle cx='1178.8' cy='235.5' r='5.5' fill='none' stroke='#fff' stroke-width='1.1'/>
<circle cx='1178.8' cy='235.5' r='4.4' fill='none' stroke='#151515' stroke-width='1.3'/>
<circle cx='1178.8' cy='287.3' r='5.5' fill='none' stroke='#fff' stroke-width='1.1'/>
<circle cx='1178.8' cy='287.3' r='4.4' fill='none' stroke='#151515' stroke-width='1.3'/>
<circle cx='1178.8' cy='334.9' r='5.5' fill='none' stroke='#fff' stroke-width='1.1'/>
<circle cx='1178.8' cy='334.9' r='4.4' fill='none' stroke='#151515' stroke-width='1.3'/>
<rect x='24.5' y='21.5' width='899' height='414' fill='none' stroke='#00ff14' stroke-width='4.8'/>
<rect x='1164.85' y='206.3' width='130.3' height='213.4' fill='none' stroke='#00ff14' stroke-width='4.7'/>
<path d='M1152.6,374.2L968,372.8' stroke='#00ff14' stroke-width='5' fill='none'/>
<path d='M932.3,372.5L969,360.6L969,384.9z' fill='#00ff14'/>
</svg>
</div>
</body></html>
